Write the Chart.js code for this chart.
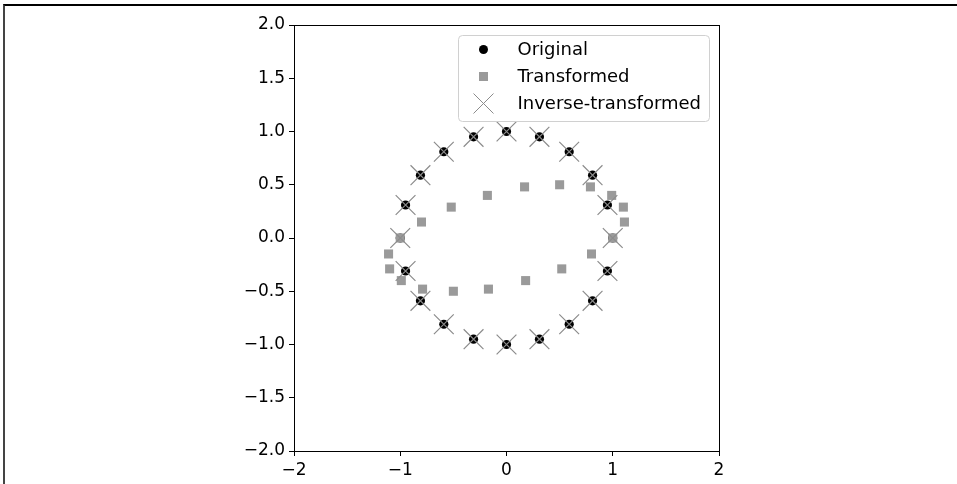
<!DOCTYPE html>
<html lang="en">
<head>
    <meta charset="UTF-8">
    <title>Original / Transformed / Inverse-transformed</title>
    <script src="https://cdn.jsdelivr.net/npm/chart.js"></script>
    <style>
        html, body {
            margin: 0;
            padding: 0;
            background: #fff;
        }
        .wrap {
            position: relative;
            width: 957px;
            height: 484px;
            overflow: hidden;
        }
        .frame {
            position: absolute;
            left: 3px;
            top: 4px;
            width: 1000px;
            height: 600px;
            border-top: 2px solid #000;
            border-left: 2px solid #444;
            pointer-events: none;
        }
        canvas {
            position: absolute;
            left: 0;
            top: 0;
        }
    </style>
</head>
<body>

<div class="wrap">
    <canvas id="scatterChart" width="957" height="484"></canvas>
    <div class="frame"></div>
</div>

<script>
// points on the unit circle
const originalX = [1.00, 0.95, 0.81, 0.59, 0.31, 0.00, -0.31, -0.59, -0.81, -0.95,
                   -1.00, -0.95, -0.81, -0.59, -0.31, 0.00, 0.31, 0.59, 0.81, 0.95];
const originalY = [0.00, 0.31, 0.59, 0.81, 0.95, 1.00, 0.95, 0.81, 0.59, 0.31,
                   0.00, -0.31, -0.59, -0.81, -0.95, -1.00, -0.95, -0.81, -0.59, -0.31];

// transformed points (grey squares)
const transformedX = [1.00, 1.11, 1.10, 0.99, 0.79, 0.50, 0.17, -0.18, -0.52, -0.80,
                      -1.00, -1.11, -1.10, -0.99, -0.79, -0.50, -0.17, 0.18, 0.52, 0.80];
const transformedY = [0.00, 0.15, 0.29, 0.40, 0.48, 0.50, 0.48, 0.40, 0.29, 0.15,
                      0.00, -0.15, -0.29, -0.40, -0.48, -0.50, -0.48, -0.40, -0.29, -0.15];

// inverse-transformed points (x markers)
const inverseX = [1.00, 0.95, 0.81, 0.59, 0.31, 0.00, -0.31, -0.59, -0.81, -0.95,
                  -1.00, -0.95, -0.81, -0.59, -0.31, 0.00, 0.31, 0.59, 0.81, 0.95];
const inverseY = [0.00, 0.31, 0.59, 0.81, 0.95, 1.00, 0.95, 0.81, 0.59, 0.31,
                  0.00, -0.31, -0.59, -0.81, -0.95, -1.00, -0.95, -0.81, -0.59, -0.31];

const xTicks = [-2, -1, 0, 1, 2];
const yTicks = [-2.0, -1.5, -1.0, -0.5, 0.0, 0.5, 1.0, 1.5, 2.0];

const seriesNames = ['Original', 'Transformed', 'Inverse-transformed'];

const FONT = '"DejaVu Sans", sans-serif';
const SQUARE_GREY = '#9a9a9a';
const CROSS_GREY = '#8c8c8c';

function toPoints(xs, ys) {
    return xs.map((x, i) => ({ x: x, y: ys[i] }));
}

function minusSign(s) {
    return s.replace('-', '\u2212');
}

// top / right spines of the axes box
const frameBox = {
    id: 'frameBox',
    afterDraw(chart) {
        const a = chart.chartArea;
        const ctx = chart.ctx;
        ctx.save();
        ctx.strokeStyle = '#000';
        ctx.lineWidth = 1;
        ctx.strokeRect(Math.round(a.left) + 0.5, Math.round(a.top) + 0.5,
                       Math.round(a.right - a.left), Math.round(a.bottom - a.top));
        ctx.restore();
    }
};

// matplotlib-like legend box in upper right corner of the axes
const boxLegend = {
    id: 'boxLegend',
    afterDraw(chart) {
        const a = chart.chartArea;
        const ctx = chart.ctx;
        const w = 251, h = 86;
        const x0 = Math.round(a.right - 10 - w) + 0.5;
        const y0 = Math.round(a.top + 10) + 0.5;

        ctx.save();
        ctx.beginPath();
        ctx.roundRect(x0, y0, w, h, 4);
        ctx.fillStyle = 'rgba(255,255,255,0.8)';
        ctx.fill();
        ctx.strokeStyle = '#d0d0d0';
        ctx.lineWidth = 1;
        ctx.stroke();

        const mx = x0 + 25;
        const tx = x0 + 59;
        const rows = [y0 + 14, y0 + 41, y0 + 68];

        // circle
        ctx.beginPath();
        ctx.arc(mx, rows[0], 4.5, 0, Math.PI * 2);
        ctx.fillStyle = '#000';
        ctx.fill();
        // square
        ctx.fillStyle = SQUARE_GREY;
        ctx.fillRect(mx - 4.5, rows[1] - 4.5, 9, 9);
        // x
        ctx.beginPath();
        ctx.moveTo(mx - 10, rows[2] - 10);
        ctx.lineTo(mx + 10, rows[2] + 10);
        ctx.moveTo(mx - 10, rows[2] + 10);
        ctx.lineTo(mx + 10, rows[2] - 10);
        ctx.strokeStyle = CROSS_GREY;
        ctx.lineWidth = 1;
        ctx.stroke();

        ctx.fillStyle = '#000';
        ctx.font = '18px ' + FONT;
        ctx.textBaseline = 'middle';
        ctx.textAlign = 'left';
        seriesNames.forEach((name, i) => ctx.fillText(name, tx, rows[i] + 1));
        ctx.restore();
    }
};

Chart.defaults.font.family = FONT;
Chart.defaults.font.size = 17;
Chart.defaults.color = '#000';

const ctx = document.getElementById('scatterChart').getContext('2d');
new Chart(ctx, {
    type: 'scatter',
    data: {
        datasets: [
            {
                label: seriesNames[0],
                data: toPoints(originalX, originalY),
                pointStyle: 'circle',
                pointRadius: 4.6,
                pointBorderWidth: 0,
                backgroundColor: '#000',
                borderColor: '#000',
                order: 3
            },
            {
                label: seriesNames[1],
                data: toPoints(transformedX, transformedY),
                pointStyle: 'rect',
                pointRadius: 6.4,
                pointBorderWidth: 0,
                backgroundColor: SQUARE_GREY,
                borderColor: SQUARE_GREY,
                order: 2
            },
            {
                label: seriesNames[2],
                data: toPoints(inverseX, inverseY),
                pointStyle: 'crossRot',
                pointRadius: 14,
                pointBorderWidth: 1.2,
                backgroundColor: CROSS_GREY,
                borderColor: CROSS_GREY,
                order: 1
            }
        ]
    },
    options: {
        responsive: false,
        animation: false,
        devicePixelRatio: 1,
        layout: {
            padding: { left: 0, top: 25, right: 238, bottom: 0 }
        },
        plugins: {
            legend: { display: false },
            tooltip: { enabled: false }
        },
        scales: {
            x: {
                type: 'linear',
                min: -2,
                max: 2,
                afterBuildTicks: scale => {
                    scale.ticks = xTicks.map(v => ({ value: v }));
                },
                afterFit: scale => {
                    scale.height = 33;
                },
                ticks: {
                    padding: 4,
                    maxRotation: 0,
                    callback: v => minusSign(String(v))
                },
                grid: {
                    drawOnChartArea: false,
                    drawTicks: true,
                    tickLength: 5,
                    color: '#000',
                    lineWidth: 1
                },
                border: { display: true, color: '#000', width: 1 }
            },
            y: {
                type: 'linear',
                min: -2,
                max: 2,
                afterBuildTicks: scale => {
                    scale.ticks = yTicks.map(v => ({ value: v }));
                },
                afterFit: scale => {
                    scale.width = 294;
                },
                ticks: {
                    padding: 4,
                    callback: v => minusSign(v.toFixed(1))
                },
                grid: {
                    drawOnChartArea: false,
                    drawTicks: true,
                    tickLength: 5,
                    color: '#000',
                    lineWidth: 1
                },
                border: { display: true, color: '#000', width: 1 }
            }
        }
    },
    plugins: [frameBox, boxLegend]
});
</script>

</body>
</html>
